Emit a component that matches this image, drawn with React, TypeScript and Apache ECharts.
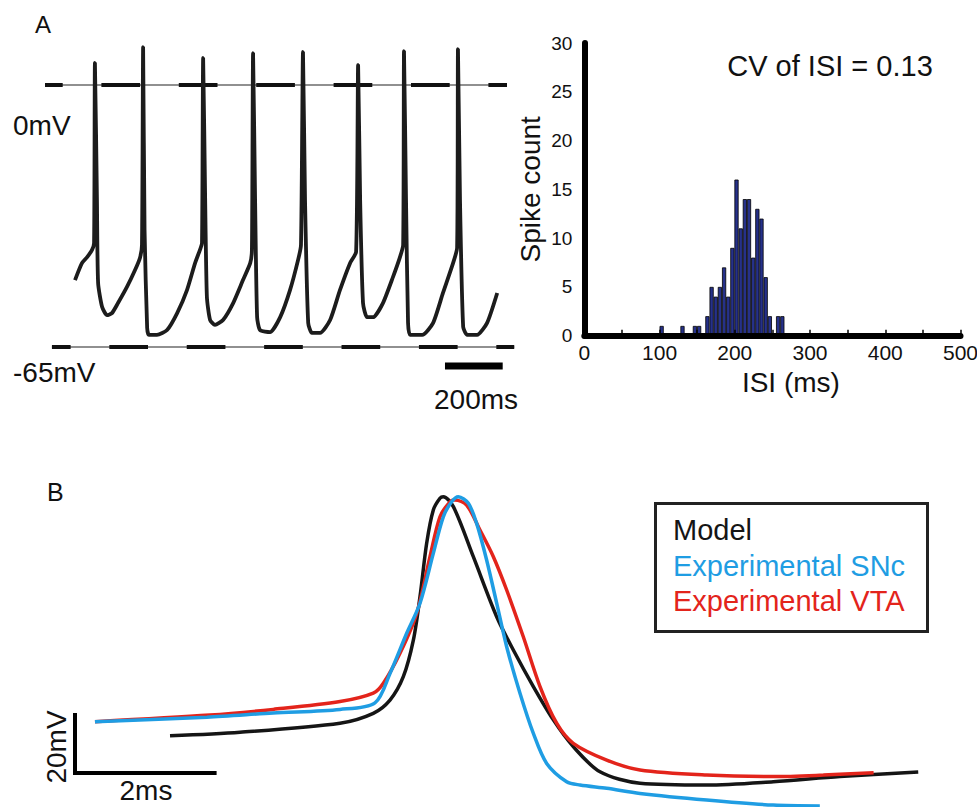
import React, { useEffect, useRef } from "react";
import * as echarts from "echarts";

const FONT = "'Liberation Sans', Arial, Helvetica, sans-serif";

// ---------- Panel A: membrane potential trace [time (ms), voltage (mV)] ----------
const TRACE_A: [number, number][] = [
  [104, -48.4], [128, -44.2], [146, -42.7], [163, -40.9], [170, -39.2], [173, 5.5],
  [180, -28.5], [184, -49.1], [198, -55.1], [215, -57.1], [232, -56.6], [253, -54.1],
  [284, -50.1], [312, -45.9], [329, -42.9], [336, -39.7], [340, 9.4], [345, -36],
  [354, -60.3], [360, -62], [388, -62], [423, -60.8], [458, -56.6], [492, -50.9],
  [520, -44.2], [537, -40.9], [544, -39.2], [548, 6.7], [555, -28.5], [561, -52.6],
  [572, -58.3], [589, -59.5], [617, -58.3], [652, -54.1], [686, -48.4], [711, -44.2],
  [717, -40.9], [721, 7.9], [728, -28.5], [735, -57.6], [745, -60.8], [780, -61.3],
  [815, -57.6], [849, -50.9], [877, -43.4], [887, -39.7], [894, 8.2], [901, -28.5],
  [912, -59.0], [925, -61.5], [953, -61.5], [988, -58.3], [1022, -50.9], [1057, -44.2],
  [1078, -41.4], [1085, 5.0], [1092, -28.5], [1102, -54.1], [1116, -57.6], [1137, -57.6],
  [1171, -54.1], [1206, -47.6], [1230, -42.7], [1241, -39.7], [1244, 8.4], [1251, -28.5],
  [1258, -59.0], [1265, -62.0], [1307, -62.0], [1345, -59.0], [1379, -51.6], [1414, -44.2],
  [1428, -40.4], [1431, 8.9], [1438, -28.5], [1449, -60.0], [1463, -62.0], [1497, -62.0],
  [1532, -59.0], [1567, -51.6],
];
const REF_LEVELS_MV = [0, -65];
const REF_LINE_START_MS = [0, 24];
const REF_LINE_END_MS = [1601, 1626];
const REF_DASH_OFFSET = [20.5, 19.5];
const REF_LABELS = ["0mV", "-65mV"];
const SCALE_A_MS = [1386, 1586];
const SCALE_A_MV = -69.7;
const SCALE_A_LABEL = "200ms";

// ---------- Panel A: ISI histogram ----------
const ISI_BIN_CENTERS = [
  102.8, 108.3, 113.9, 119.4, 124.9, 130.5, 136.0, 141.5, 147.0, 152.6,
  158.1, 163.6, 169.2, 174.7, 180.2, 185.8, 191.3, 196.8, 202.3, 207.9,
  213.4, 218.9, 224.5, 230.0, 235.5, 241.1, 246.6, 252.1, 257.6, 263.2,
];
const ISI_COUNTS = [
  1, 0, 0, 0, 0, 1, 0, 0, 1, 1,
  0, 2, 5, 4, 5, 7, 4, 9, 16, 11,
  14, 14, 8, 13, 12, 6, 2, 0, 2, 2,
];
const CV_TEXT = "CV of ISI = 0.13";

// ---------- Panel B: action potential waveforms [time (ms), voltage (mV)] ----------
const AP_MODEL: [number, number][] = [
  [1.342, -57.6], [2.331, -56.4], [3.743, -53.4], [4.213, -50.1], [4.449, -45.7],
  [4.637, -37.9], [4.779, -25.7], [4.873, -11.2], [4.967, 6.6], [5.061, 17.7],
  [5.155, 21.6], [5.202, 22.1], [5.344, 18.8], [5.626, 2.1], [5.956, -17.9],
  [6.191, -29.0], [6.474, -41.2], [6.756, -52.3], [7.038, -61.2], [7.415, -69.6],
  [7.98, -73.4], [8.922, -74.0], [9.863, -72.9], [10.805, -71.2], [11.91, -69.7],
];
const AP_SNC: [number, number][] = [
  [0.282, -52.9], [1.864, -51.4], [2.797, -50.0], [3.743, -48.8], [4.237, -46.6],
  [4.449, -36.8], [4.685, -23.4], [4.873, -13.4], [5.061, 3.2], [5.202, 15.4],
  [5.32, 20.4], [5.414, 22.1], [5.556, 19.9], [5.673, 13.2], [5.814, 1.0],
  [5.956, -13.4], [6.097, -27.9], [6.285, -43.4], [6.474, -56.8], [6.662, -66.8],
  [6.944, -72.9], [7.133, -74.0], [7.51, -75.1], [7.98, -76.8], [8.922, -79.0],
  [9.863, -80.7], [10.52, -81.0],
];
const AP_VTA: [number, number][] = [
  [0.282, -52.9], [1.907, -50.7], [2.8, -48.8], [3.743, -46.2], [4.213, -43.4],
  [4.355, -40.1], [4.59, -30.1], [4.826, -16.8], [5.014, 2.1], [5.155, 15.4],
  [5.297, 20.4], [5.367, 21.0], [5.532, 19.3], [5.72, 11.0], [5.909, 2.1],
  [6.097, -9.0], [6.332, -24.6], [6.568, -41.2], [6.803, -53.4], [7.038, -60.1],
  [7.51, -65.7], [7.98, -69.0], [8.922, -70.7], [9.863, -71.2], [10.57, -70.7],
  [11.28, -69.9],
];
const LEGEND_LABELS = ["Model", "Experimental SNc", "Experimental VTA"];
const COLORS = ["#151515", "#1f9de3", "#e3241b"];
const SCALE_B_ORIGIN: [number, number] = [0, -70];
const SCALE_B_MS = 2;
const SCALE_B_MV = 20;

export default function App() {
  const ref = useRef<HTMLDivElement>(null);

  useEffect(() => {
    if (!ref.current) return;
    const chart = echarts.init(ref.current, undefined, { renderer: "svg" });

    const font = (size: number) => `${size}px ${FONT}`;
    const txt = (
      text: string, x: number, y: number, size: number,
      align: string, color = "#111", rotation = 0
    ) => ({
      type: "text",
      x, y, rotation,
      silent: true,
      style: {
        text, fill: color, font: font(size), fontSize: size, fontFamily: FONT,
        align, verticalAlign: "middle", textAlign: align, textVerticalAlign: "middle",
      },
    });

    const refSeries: any[] = [];
    REF_LEVELS_MV.forEach((lvl, i) => {
      const data = [[REF_LINE_START_MS[i], lvl], [REF_LINE_END_MS[i], lvl]];
      refSeries.push({
        type: "line", xAxisIndex: 0, yAxisIndex: 0, data, symbol: "none", silent: true,
        lineStyle: { color: "#222", width: 1.1 }, z: 1,
      });
      refSeries.push({
        type: "line", xAxisIndex: 0, yAxisIndex: 0, data, symbol: "none", silent: true,
        lineStyle: { color: "#111", width: 4, type: [38.7, 38.7], dashOffset: REF_DASH_OFFSET[i] }, z: 1,
      });
    });

    const apSeries = [AP_MODEL, AP_VTA, AP_SNC].map((d, k) => {
      const ci = [0, 2, 1][k];
      return {
        name: LEGEND_LABELS[ci],
        type: "line", xAxisIndex: 2, yAxisIndex: 2, data: d, symbol: "none",
        smooth: 0.3, clip: false, silent: true, z: 3 + k,
        lineStyle: { color: COLORS[ci], width: 3.5 },
      };
    });

    const option: any = {
      animation: false,
      backgroundColor: "#ffffff",
      textStyle: { fontFamily: FONT },
      grid: [
        { left: 45, top: 24.5, width: 470.4, height: 362.8, outerBoundsMode: "none" },
        { left: 584.3, top: 43, width: 376.2, height: 292.7, outerBoundsMode: "none" },
        { left: 39.6, top: 473, width: 920.4, height: 330, outerBoundsMode: "none" },
      ],
      xAxis: [
        { gridIndex: 0, type: "value", min: 0, max: 1630, show: false },
        {
          gridIndex: 1, type: "value", min: 0, max: 500, interval: 50, z: 5,
          axisLine: { show: true, lineStyle: { color: "#000", width: 6 } },
          axisTick: { show: true, inside: true, length: 6, lineStyle: { color: "#000", width: 1.5 } },
          splitLine: { show: false },
          axisLabel: {
            color: "#111", fontSize: 21, fontFamily: FONT, margin: 6,
            formatter: (v: number) => (v % 100 === 0 ? String(v) : ""),
          },
          name: "ISI (ms)", nameLocation: "middle", nameGap: 33,
          nameTextStyle: { color: "#111", fontSize: 28, fontFamily: FONT, padding: [0, 0, 0, 37] },
        },
        { gridIndex: 2, type: "value", min: -0.5, max: 12.5, show: false },
      ],
      yAxis: [
        { gridIndex: 0, type: "value", min: -75, max: 15, show: false },
        {
          gridIndex: 1, type: "value", min: 0, max: 30, interval: 5, z: 5,
          axisLine: { show: true, lineStyle: { color: "#000", width: 6 } },
          axisTick: { show: false },
          splitLine: { show: false },
          axisLabel: { color: "#111", fontSize: 19, fontFamily: FONT, margin: 12, padding: [10, 0, 0, 0] },
          name: "Spike count", nameLocation: "middle", nameGap: 40,
          nameTextStyle: { color: "#111", fontSize: 28, fontFamily: FONT, padding: [0, 0, 0, 0] },
        },
        { gridIndex: 2, type: "value", min: -80, max: 30, show: false },
      ],
      series: [
        ...refSeries,
        {
          type: "line", xAxisIndex: 0, yAxisIndex: 0, data: TRACE_A, symbol: "none",
          smooth: 0.2, silent: true, z: 3,
          lineStyle: { color: "#1c1c1c", width: 3.8 },
        },
        {
          type: "line", xAxisIndex: 0, yAxisIndex: 0, symbol: "none", silent: true, clip: false,
          data: SCALE_A_MS.map((t) => [t, SCALE_A_MV]),
          lineStyle: { color: "#000", width: 7 }, z: 3,
        },
        {
          type: "bar", xAxisIndex: 1, yAxisIndex: 1, barWidth: 4.17, silent: true, z: 2,
          data: ISI_BIN_CENTERS.map((c, i) => [c, ISI_COUNTS[i]]),
          itemStyle: { color: "#26318a", borderColor: "#000", borderWidth: 0.8 },
        },
        ...apSeries,
        {
          type: "line", xAxisIndex: 2, yAxisIndex: 2, symbol: "none", silent: true, clip: false,
          data: [
            [SCALE_B_ORIGIN[0], SCALE_B_ORIGIN[1] + SCALE_B_MV],
            SCALE_B_ORIGIN,
            [SCALE_B_ORIGIN[0] + SCALE_B_MS, SCALE_B_ORIGIN[1]],
          ],
          lineStyle: { color: "#000", width: 4, join: "miter" }, z: 3,
        },
      ],
      graphic: [
        txt("A", 35, 24, 24, "left"),
        txt(REF_LABELS[0], 13, 125, 28, "left"),
        txt(REF_LABELS[1], 13, 372, 28, "left"),
        txt(SCALE_A_LABEL, 476, 399, 28, "center"),
        txt(CV_TEXT, 830, 66, 29, "center"),
        txt("B", 47, 492, 25, "left"),
        txt(`${SCALE_B_MV}mV`, 56, 747, 28, "center", "#111", Math.PI / 2),
        txt(`${SCALE_B_MS}ms`, 146, 790, 28, "center"),
        {
          type: "rect", silent: true,
          shape: { x: 655.5, y: 503.5, width: 272, height: 128 },
          style: { fill: "rgba(0,0,0,0)", stroke: "#222", lineWidth: 3 },
        },
        txt(LEGEND_LABELS[0], 673, 530, 29, "left", COLORS[0]),
        txt(LEGEND_LABELS[1], 673, 566, 29, "left", COLORS[1]),
        txt(LEGEND_LABELS[2], 673, 601, 29, "left", COLORS[2]),
      ],
    };

    chart.setOption(option);
    return () => chart.dispose();
  }, []);

  return (
    <div
      ref={ref}
      style={{ position: "fixed", left: 0, top: 0, width: 977, height: 807, background: "#fff" }}
    />
  );
}
